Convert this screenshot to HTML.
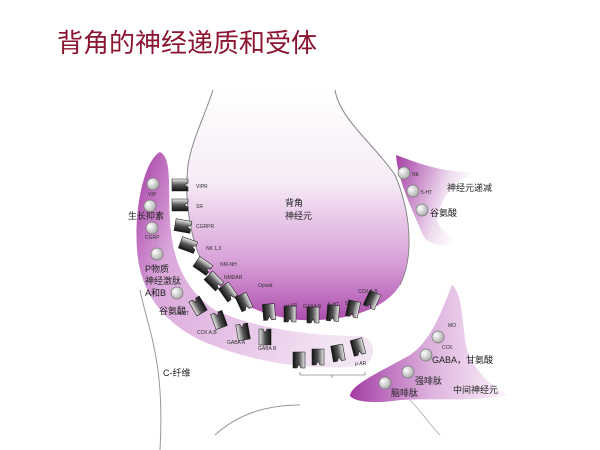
<!DOCTYPE html>
<html><head><meta charset="utf-8"><style>
html,body{margin:0;padding:0;background:#fff;}
svg{display:block}
text{font-family:"Liberation Sans","Noto Sans CJK SC",sans-serif;}
</style></head><body>
<svg width="600" height="450" viewBox="0 0 600 450" xmlns="http://www.w3.org/2000/svg">
<defs>
<linearGradient id="gb" x1="0" y1="0" x2="0" y2="1">
<stop offset="0" stop-color="#fff"/><stop offset="0.4" stop-color="#f6ecf6"/><stop offset="0.75" stop-color="#d8a0d8"/><stop offset="1" stop-color="#ae4eae"/></linearGradient>
<linearGradient id="gc" x1="0" y1="0" x2="1" y2="0.3">
<stop offset="0" stop-color="#a53aa5"/><stop offset="0.25" stop-color="#dba8db"/><stop offset="1" stop-color="#f3e4f3"/></linearGradient>
<linearGradient id="gt" x1="0" y1="0" x2="1" y2="0.4">
<stop offset="0" stop-color="#a43ca4"/><stop offset="0.7" stop-color="#efdcef"/><stop offset="1" stop-color="#fff"/></linearGradient>
<linearGradient id="gi" x1="0" y1="0" x2="1" y2="0">
<stop offset="0" stop-color="#a43ca4"/><stop offset="0.5" stop-color="#dcb0dc"/><stop offset="1" stop-color="#fbf4fb"/></linearGradient>
<linearGradient id="gr" x1="0" y1="0" x2="1" y2="0">
<stop offset="0" stop-color="#111"/><stop offset="0.5" stop-color="#555"/><stop offset="1" stop-color="#eee"/></linearGradient>
<radialGradient id="ball" cx="0.35" cy="0.35" r="0.7"><stop offset="0" stop-color="#fff"/><stop offset="1" stop-color="#aaa"/></radialGradient>
<g id="rc"><path d="M-6,-8 L6,-8 L6,8 L2,8 L0,4 L-2,8 L-6,8Z" fill="url(#gr)" stroke="#222" stroke-width="0.6"/></g>
</defs>
<text x="57" y="52" font-size="26" fill="#8b1530" font-family="'Liberation Serif','Noto Serif CJK SC',serif">背角的神经递质和受体</text>

<!-- neuron body -->
<path d="M213,90 C205,115 192,140 188,165 C184,200 190,240 205,268 C225,300 260,316 300,320 C345,322 385,310 400,285 C415,255 410,210 395,175 C380,150 350,125 338,95 L338,88 L213,88Z" fill="url(#gb)"/>
<path d="M213,90 C205,115 192,140 188,165 C184,200 190,240 205,268" fill="none" stroke="#888" stroke-width="1"/>
<path d="M335,90 C340,120 375,145 395,175 C410,210 415,255 400,285" fill="none" stroke="#888" stroke-width="1"/>

<!-- C fiber -->
<path d="M160,152 C145,160 134,205 137,250 C140,290 160,320 200,340 C240,358 300,372 362,366 C378,360 376,340 362,336 C300,336 250,326 215,310 C185,290 172,260 170,220 C168,185 172,158 160,152Z" fill="url(#gc)"/>
<path d="M140,290 C148,330 165,360 160,450" fill="none" stroke="#999" stroke-width="1"/>
<path d="M215,435 C240,412 270,405 300,405" fill="none" stroke="#999" stroke-width="1"/>

<!-- top right neuron -->
<path d="M396,155 C415,162 440,172 470,172 L470,176 C452,182 440,200 437,220 C440,232 455,240 470,244 C448,248 428,246 423,235 C410,205 398,180 396,155Z" fill="url(#gt)"/>
<!-- interneuron -->
<path d="M452,285 C462,292 462,320 466,345 C470,365 488,385 508,395 C480,402 430,398 400,400 C375,404 355,402 350,396 C350,385 380,372 410,355 C432,340 442,310 452,285Z" fill="url(#gi)"/>
<path d="M410,400 C420,410 430,425 440,435" fill="none" stroke="#aaa" stroke-width="0.8"/>

<!-- receptors -->
<g>
<use href="#rc" transform="translate(180,185) rotate(-90)"/>
<use href="#rc" transform="translate(180,205) rotate(-90)"/>
<use href="#rc" transform="translate(183,226) rotate(-80)"/>
<use href="#rc" transform="translate(188,245) rotate(-70)"/>
<use href="#rc" transform="translate(203,266) rotate(-55)"/>
<use href="#rc" transform="translate(214,281) rotate(-45)"/>
<use href="#rc" transform="translate(228,292) rotate(-35)"/>
<use href="#rc" transform="translate(244,302) rotate(-25)"/>
<use href="#rc" transform="translate(269,312) rotate(-5)"/>
<use href="#rc" transform="translate(290,314) rotate(0)"/>
<use href="#rc" transform="translate(313,315) rotate(0)"/>
<use href="#rc" transform="translate(333,313) rotate(5)"/>
<use href="#rc" transform="translate(353,309) rotate(12)"/>
<use href="#rc" transform="translate(372,300) rotate(25)"/>
<use href="#rc" transform="translate(198,306) rotate(150)"/>
<use href="#rc" transform="translate(219,320) rotate(160)"/>
<use href="#rc" transform="translate(243,332) rotate(170)"/>
<use href="#rc" transform="translate(265,337) rotate(180)"/>
<use href="#rc" transform="translate(299,360)"/>
<use href="#rc" transform="translate(318,357)"/>
<use href="#rc" transform="translate(338,353) rotate(-10)"/>
<use href="#rc" transform="translate(358,347) rotate(-15)"/>
</g>
<path d="M300,372 L300,375 L365,375 L365,372 M332,375 L332,378" fill="none" stroke="#555" stroke-width="0.6"/>

<!-- balls -->
<g fill="url(#ball)" stroke="#777" stroke-width="0.7">
<circle cx="153" cy="184" r="6"/><circle cx="150" cy="206" r="6"/><circle cx="152" cy="228" r="6"/><circle cx="157" cy="254" r="6"/><circle cx="177" cy="293" r="6"/>
<circle cx="404" cy="173" r="6"/><circle cx="413" cy="191" r="6"/><circle cx="422" cy="210" r="6"/>
<circle cx="438" cy="337" r="6"/><circle cx="426" cy="355" r="6"/><circle cx="408" cy="372" r="6"/><circle cx="385" cy="383" r="6"/>
</g>

<g font-size="5" fill="#333">
<text x="196" y="188">VIPR</text><text x="196" y="208">SR</text><text x="196" y="228">CGRPR</text><text x="206" y="250">NK 1,3</text>
<text x="220" y="266">NM-NH</text><text x="224" y="279">NMDAR</text><text x="258" y="287">Opioid</text>
<text x="286" y="307">μ AR</text><text x="303" y="308">GABA B</text><text x="328" y="306">5-HT</text><text x="345" y="305">5-HT</text><text x="358" y="293">CCK A,B</text>
<text x="178" y="315">5-HT</text><text x="197" y="334">CCK A,B</text><text x="227" y="344">GABA A</text><text x="258" y="350">GABA B</text><text x="355" y="365">μ AR</text>
<text x="148" y="196">VIP</text><text x="145" y="239">CGRP</text>
<text x="412" y="176">NE</text><text x="421" y="194">5-HT</text><text x="448" y="327">MO</text><text x="442" y="349">CCK</text>
</g>
<g font-size="9" fill="#222">
<text x="285" y="206">背角</text><text x="285" y="219">神经元</text>
<text x="128" y="219">生长抑素</text>
<text x="145" y="272">P物质</text><text x="145" y="284">神经激肽</text><text x="145" y="296">A和B</text>
<text x="159" y="314">谷氨酸</text>
<text x="163" y="376">C-纤维</text>
<text x="447" y="191">神经元递减</text>
<text x="430" y="216">谷氨酸</text>
<text x="432" y="363">GABA，甘氨酸</text>
<text x="415" y="384">强啡肽</text>
<text x="391" y="396">脑啡肽</text>
<text x="453" y="393">中间神经元</text>
</g>
</svg>
</body></html>
